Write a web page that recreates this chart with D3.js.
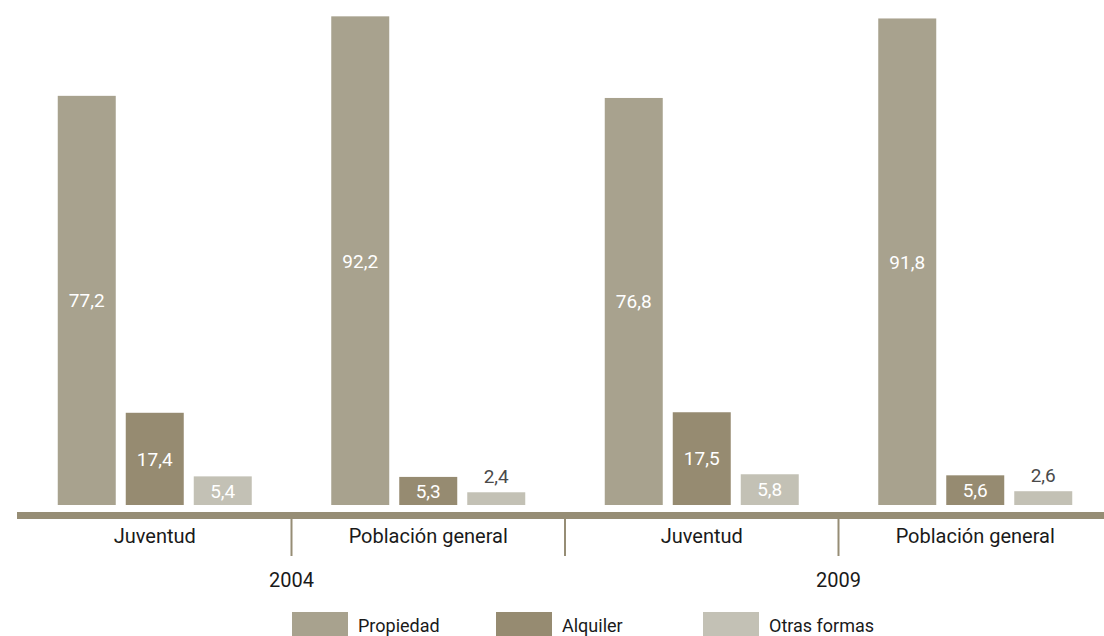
<!DOCTYPE html>
<html>
<head>
<meta charset="utf-8">
<script src="https://cdn.jsdelivr.net/npm/d3@7/dist/d3.min.js"></script>
<style>
  html, body { margin: 0; padding: 0; background: #ffffff; }
  svg { display: block; font-family: Roboto, "Noto Sans", sans-serif; }
</style>
</head>
<body>
<svg id="chart" width="1104" height="636"></svg>
<script>
// Régimen de tenencia de la vivienda (%)
const years = ["2004", "2009"];
const groups = ["Juventud", "Población general"];
const series = ["Propiedad", "Alquiler", "Otras formas"];
const propiedad = [77.2, 92.2, 76.8, 91.8];
const alquiler = [17.4, 5.3, 17.5, 5.6];
const otras = [5.4, 2.4, 5.8, 2.6];
const colors = ["#a8a28e", "#968b71", "#c3c1b5"];

const panels = [];
years.forEach((yr, yi) => groups.forEach((g, gi) => {
  const i = yi * groups.length + gi;
  panels.push({ key: yr + "|" + g, year: yr, group: g,
    values: [propiedad[i], alquiler[i], otras[i]] });
}));

const svg = d3.select("#chart");
const baseY = 505;

const x0 = d3.scaleBand().domain(panels.map(p => p.key)).range([18, 1112]).padding(0);
const barsSpan = 194;
const x1 = d3.scaleBand().domain(series).range([0, barsSpan]).paddingInner(10 / 68).paddingOuter(0);
const y = d3.scaleLinear().domain([0, 100]).range([baseY, baseY - 530]);
const color = d3.scaleOrdinal().domain(series).range(colors);

const inset = (x0.bandwidth() - barsSpan) / 2;

const panel = svg.selectAll("g.panel").data(panels).join("g")
  .attr("class", "panel")
  .attr("transform", d => `translate(${x0(d.key) + inset},0)`);

const cells = panel.selectAll("g.cell")
  .data(d => d.values.map((v, k) => ({ s: series[k], v })))
  .join("g").attr("class", "cell");

cells.append("rect")
  .attr("x", d => x1(d.s))
  .attr("width", x1.bandwidth())
  .attr("y", d => y(d.v))
  .attr("height", d => baseY - y(d.v))
  .attr("fill", d => color(d.s));

const fmt = v => d3.format(".1f")(v).replace(".", ",");
const inside = d => (baseY - y(d.v)) >= 24;
cells.append("text")
  .attr("x", d => x1(d.s) + x1.bandwidth() / 2)
  .attr("y", d => inside(d) ? (y(d.v) + baseY) / 2 : y(d.v) - 9)
  .attr("dy", d => inside(d) ? "0.36em" : "0")
  .attr("text-anchor", "middle")
  .attr("font-size", 19)
  .attr("fill", d => inside(d) ? "#ffffff" : "#4a4a4a")
  .text(d => fmt(d.v));

// Eje horizontal
const axisColor = "#968d75";
svg.append("rect")
  .attr("x", 17).attr("y", 512)
  .attr("width", 1104 - 17).attr("height", 7)
  .attr("fill", axisColor);

// Separadores entre grupos
const dividers = panels.slice(1).map(p => x0(p.key));
svg.selectAll("line.div").data(dividers).join("line")
  .attr("class", "div")
  .attr("x1", d => d).attr("x2", d => d)
  .attr("y1", 519).attr("y2", 556)
  .attr("stroke", axisColor).attr("stroke-width", 2);

// Etiquetas de grupo
svg.selectAll("text.grp").data(panels).join("text")
  .attr("class", "grp")
  .attr("x", d => x0(d.key) + x0.bandwidth() / 2)
  .attr("y", 543)
  .attr("text-anchor", "middle")
  .attr("font-size", 20)
  .attr("fill", "#1a1a1a")
  .text(d => d.group);

// Etiquetas de año
svg.selectAll("text.yr").data(years).join("text")
  .attr("class", "yr")
  .attr("x", (d, i) => x0(panels[i * groups.length + 1].key))
  .attr("y", 587)
  .attr("text-anchor", "middle")
  .attr("font-size", 20)
  .attr("fill", "#1a1a1a")
  .text(d => d);

// Leyenda
const legendX = [292, 496, 703];
const legend = svg.selectAll("g.leg").data(series).join("g")
  .attr("class", "leg")
  .attr("transform", (d, i) => `translate(${legendX[i]},612)`);
legend.append("rect")
  .attr("width", 56).attr("height", 24)
  .attr("fill", d => color(d));
legend.append("text")
  .attr("x", 66).attr("y", 20)
  .attr("font-size", 18)
  .attr("fill", "#1a1a1a")
  .text(d => d);
</script>
</body>
</html>
